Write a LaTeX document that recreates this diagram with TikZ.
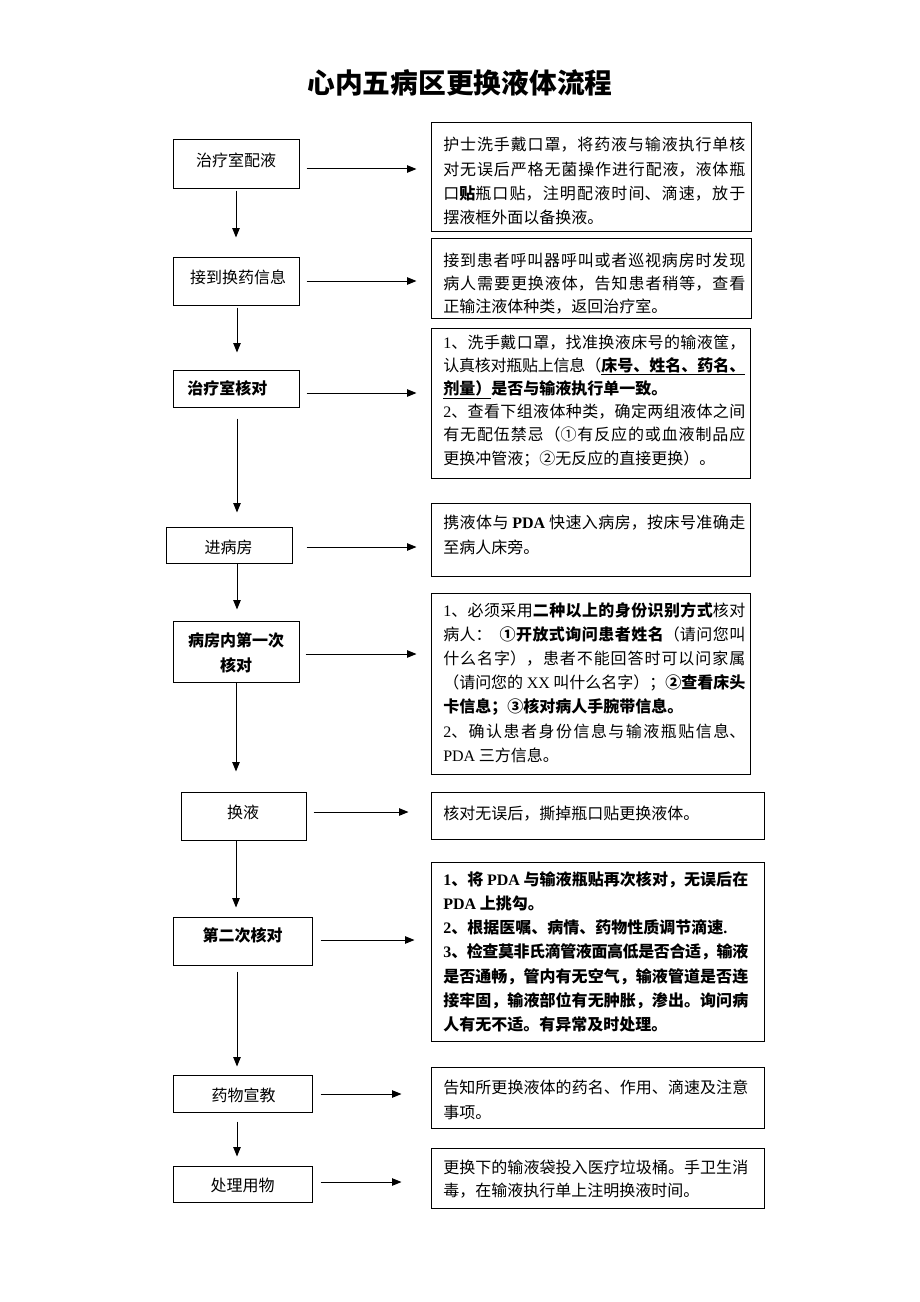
\documentclass[tikz,border=0pt]{standalone}
\usepackage{fontspec}
\setmainfont{Noto Sans CJK SC}
\newfontfamily\lat{Liberation Serif}
\usetikzlibrary{arrows.meta,calc}
\XeTeXlinebreaklocale "zh"
\XeTeXlinebreakskip=0pt plus 2pt minus 1pt
\newcommand{\en}[1]{{\lat #1}}
\newcommand{\rtxt}[3]{\parbox[t]{#1}{\fontsize{12pt}{#2}\selectfont #3}}
\begin{document}
\begin{tikzpicture}[x=0.75pt,y=-0.75pt,
  box/.style={draw, line width=0.75pt, inner sep=0pt},
  sz/.style 2 args={minimum width=#1*0.75pt, minimum height=#2*0.75pt},
  arr/.style={line width=0.75pt, -{Triangle[length=7pt,width=5.5pt]}},
  lt/.style={inner sep=0pt, font=\fontsize{12pt}{18.75pt}\selectfont},
  ltb/.style={lt, font=\fontsize{12pt}{18.75pt}\selectfont\bfseries},
  rt/.style={inner sep=0pt, anchor=base west}]
\fill[white] (0,0) rectangle (920,1302);
\useasboundingbox (0,0) rectangle (920,1302);

% title
\node[inner sep=0pt, font=\fontsize{20.8pt}{25pt}\selectfont\bfseries] (title) at (460,83) {心内五病区更换液体流程};

% left boxes
\node[box, sz={126}{48}] (L1) at (236,164) {};
\node[box, sz={126}{48}] (L2) at (236,281) {};
\node[box, sz={126}{37}] (L3) at (236,388.5) {};
\node[box, sz={126}{36}] (L4) at (229,545) {};
\node[box, sz={126}{61}] (L5) at (236,651.5) {};
\node[box, sz={125}{48}] (L6) at (243.5,816) {};
\node[box, sz={139}{48}] (L7) at (242.5,941) {};
\node[box, sz={139}{37}] (L8) at (242.5,1093.5) {};
\node[box, sz={139}{36}] (L9) at (242.5,1184) {};

% left texts
\node[lt] (L1t) at (236,160) {治疗室配液};
\node[lt] (L2t) at (238,277) {接到换药信息};
\node[ltb, anchor=west] (L3t) at (187,388) {治疗室核对};
\node[lt] (L4t) at (228.5,547) {进病房};
\node[ltb, align=center] (L5t) at (236,652.5) {病房内第一次\\核对};
\node[lt] (L6t) at (243,812) {换液};
\node[ltb] (L7t) at (242.5,935) {第二次核对};
\node[lt] (L8t) at (243.5,1095) {药物宣教};
\node[lt] (L9t) at (242.5,1185) {处理用物};

% right boxes
\node[box, sz={320}{108}] (R1) at (591,177) {};
\node[box, sz={320}{80}] (R2) at (591,278) {};
\node[box, sz={319}{150}] (R3) at (590.5,403) {};
\node[box, sz={319}{73}] (R4) at (590.5,539.5) {};
\node[box, sz={319}{181}] (R5) at (590.5,683.5) {};
\node[box, sz={333}{47}] (R6) at (597.5,815.5) {};
\node[box, sz={333}{179}] (R7) at (597.5,951.5) {};
\node[box, sz={333}{61}] (R8) at (597.5,1097.5) {};
\node[box, sz={333}{60}] (R9) at (597.5,1178) {};

% right texts
\node[rt] (R1t) at (443,151) {\rtxt{226.5pt}{18.2pt}{护士洗手戴口罩，将药液与输液执行单核\linebreak 对无误后严格无菌操作进行配液，液体瓶\linebreak 口\textbf{贴}瓶口贴，注明配液时间、滴速，放于\linebreak 摆液框外面以备换液。}};
\node[rt] (R2t) at (443,266) {\rtxt{226.5pt}{17.6pt}{接到患者呼叫器呼叫或者巡视病房时发现\linebreak 病人需要更换液体，告知患者稍等，查看\linebreak 正输注液体种类，返回治疗室。}};
\node[rt] (R3t) at (443,348) {\rtxt{226.5pt}{17.4pt}{\en{1}、洗手戴口罩，找准换液床号的输液筐，\linebreak 认真核对瓶贴上信息（\underline{\textbf{床号、姓名、药名、}}\linebreak \underline{\textbf{剂量）}}\textbf{是否与输液执行单一致。}\par \en{2}、查看下组液体种类，确定两组液体之间\linebreak 有无配伍禁忌（①有反应的或血液制品应\linebreak 更换冲管液；②无反应的直接更换）。}};
\node[rt] (R4t) at (443,528) {\rtxt{226.5pt}{18.75pt}{携液体与 \textbf{\en{PDA}} 快速入病房，按床号准确走\linebreak 至病人床旁。}};
\node[rt] (R5t) at (443,616) {\rtxt{226.5pt}{18.15pt}{\en{1}、必须采用\textbf{二种以上的身份识别方式}核对\linebreak 病人：\ \ \textbf{①开放式询问患者姓名}（请问您叫\linebreak 什么名字），患者不能回答时可以问家属\linebreak （请问您的 \en{XX} 叫什么名字）；\textbf{②查看床头}\linebreak \textbf{卡信息；③核对病人手腕带信息。}\par \en{2}、确认患者身份信息与输液瓶贴信息、\linebreak \en{PDA} 三方信息。}};
\node[rt] (R6t) at (443,819) {\rtxt{228.75pt}{18pt}{核对无误后，撕掉瓶口贴更换液体。}};
\node[rt] (R7t) at (443,885) {\rtxt{228.75pt}{18.2pt}{\bfseries \en{1}、将 \en{PDA} 与输液瓶贴再次核对，无误后在\linebreak \en{PDA} 上挑勾。\par \en{2}、根据医嘱、病情、药物性质调节滴速\en{.}\par \en{3}、检查莫非氏滴管液面高低是否合适，输液\linebreak 是否通畅，管内有无空气，输液管道是否连\linebreak 接牢固，输液部位有无肿胀，渗出。询问病\linebreak 人有无不适。有异常及时处理。}};
\node[rt] (R8t) at (443,1093) {\rtxt{228.75pt}{18.75pt}{告知所更换液体的药名、作用、滴速及注意\linebreak 事项。}};
\node[rt] (R9t) at (443,1173) {\rtxt{228.75pt}{17.25pt}{更换下的输液袋投入医疗垃圾桶。手卫生消\linebreak 毒，在输液执行单上注明换液时间。}};

% horizontal arrows
\draw[arr] ($(L1.east)+(7,5)$) -- ($(R1.west)+(-14,-8)$);
\draw[arr] ($(L2.east)+(7,0)$) -- ($(R2.west)+(-14,3)$);
\draw[arr] ($(L3.east)+(7,4.5)$) -- ($(R3.west)+(-14,-10)$);
\draw[arr] ($(L4.east)+(14,2)$) -- ($(R4.west)+(-14,7.5)$);
\draw[arr] ($(L5.east)+(6,2.5)$) -- ($(R5.west)+(-14,-29.5)$);
\draw[arr] ($(L6.east)+(7,-4)$) -- ($(R6.west)+(-22,-3.5)$);
\draw[arr] ($(L7.east)+(8,-1)$) -- ($(R7.west)+(-16,-11.5)$);
\draw[arr] ($(L8.east)+(8,0.5)$) -- ($(R8.west)+(-29,-3.5)$);
\draw[arr] ($(L9.east)+(8,-2)$) -- ($(R9.west)+(-29,4)$);

% vertical arrows
\draw[arr] ($(L1.south)+(0,2)$) -- ($(L2.north)+(0,-19)$);
\draw[arr] ($(L2.south)+(1,2)$) -- ($(L3.north)+(1,-17)$);
\draw[arr] ($(L3.south)+(1,11)$) -- ($(L4.north)+(8,-14)$);
\draw[arr] ($(L4.south)+(8,0)$) -- ($(L5.north)+(1,-11)$);
\draw[arr] ($(L5.south)+(0,0)$) -- ($(L6.north)+(-7.5,-20)$);
\draw[arr] ($(L6.south)+(-7.5,0)$) -- ($(L7.north)+(-6.5,-9)$);
\draw[arr] ($(L7.south)+(-5.5,6)$) -- ($(L8.north)+(-5.5,-8)$);
\draw[arr] ($(L8.south)+(-5.5,9)$) -- ($(L9.north)+(-5.5,-9)$);
\end{tikzpicture}
\end{document}
